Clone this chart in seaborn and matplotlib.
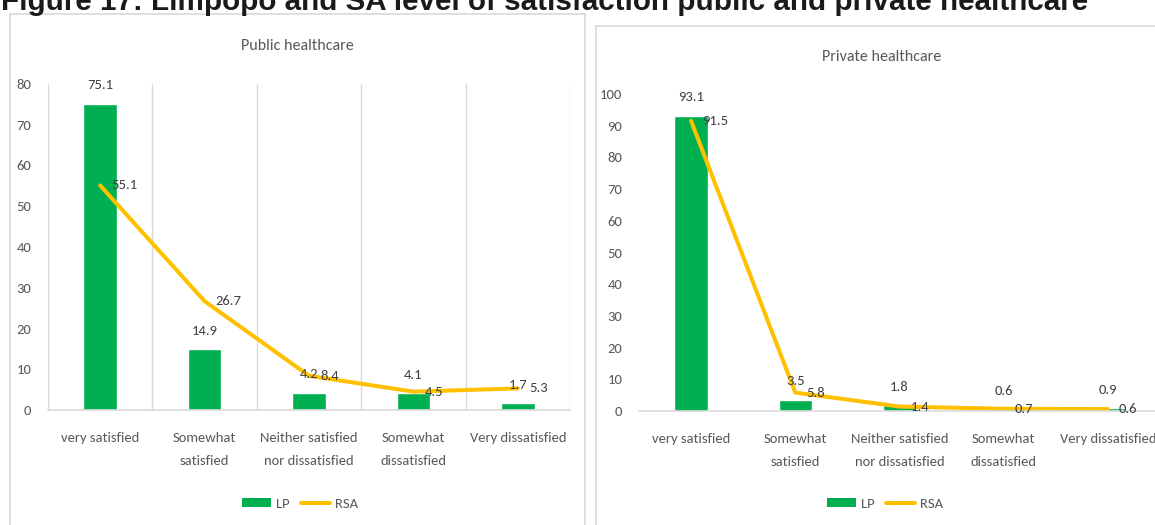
import numpy as np
import pandas as pd
import seaborn as sns
import matplotlib.pyplot as plt
from matplotlib import font_manager
from matplotlib.patches import Patch, Rectangle
from matplotlib.lines import Line2D

# ---- data ----
categories = ['very satisfied', 'Somewhat\nsatisfied', 'Neither satisfied\nnor dissatisfied',
              'Somewhat\ndissatisfied', 'Very dissatisfied']
public_lp = [75.1, 14.9, 4.2, 4.1, 1.7]
public_rsa = [55.1, 26.7, 8.4, 4.5, 5.3]
private_lp = [93.1, 3.5, 1.8, 0.6, 0.9]
private_rsa = [91.5, 5.8, 1.4, 0.7, 0.6]

GREEN = '#00B050'
YELLOW = '#FFC000'
GREY_TXT = '#595959'
GRID = '#d9d9d9'

sns.set_theme(style='white')
installed = {f.name for f in font_manager.fontManager.ttflist}
narrow = 'DejaVu Sans'
for cand in ['Carlito', 'Liberation Sans Narrow', 'Roboto Condensed', 'Open Sans Condensed', 'Liberation Sans']:
    if cand in installed:
        narrow = cand
        break
plt.rcParams['font.family'] = [narrow, 'DejaVu Sans']

W, H = 1155, 525
fig = plt.figure(figsize=(W / 100, H / 100), dpi=100)


def fbox(x0, y0, x1, y1):
    # pixel box (top-left origin) -> figure fraction rect
    return [x0 / W, 1 - y1 / H, (x1 - x0) / W, (y1 - y0) / H]


# panel frames
fig.patches.append(Rectangle((10 / W, 1 - 540 / H), (585 - 10) / W, (540 - 14) / H,
                             transform=fig.transFigure, fill=False, edgecolor=GRID, lw=1.2))
fig.patches.append(Rectangle((596 / W, 1 - 540 / H), (1170 - 596) / W, (540 - 26) / H,
                             transform=fig.transFigure, fill=False, edgecolor=GRID, lw=1.2))

# figure caption, cut off at the top as in the source
fig.text(1 / W, 1 - 10 / H, 'Figure 17: Limpopo and SA level of satisfaction public and private healthcare',
         fontsize=21.3, fontweight='bold', family=['Liberation Sans', 'DejaVu Sans'],
         color='#1a1a1a', ha='left', va='baseline')

panels = [
    ('Public healthcare', public_lp, public_rsa, fbox(48, 84, 570, 410), 80, True, 297, 46),
    ('Private healthcare', private_lp, private_rsa, fbox(639, 94, 1160, 411), 100, False, 882, 57),
]

for title, lp, rsa, rect, ymax, vgrid, tx, ty in panels:
    ax = fig.add_axes(rect)
    df = pd.DataFrame({'cat': categories, 'LP': lp, 'RSA': rsa})
    sns.barplot(data=df, x='cat', y='LP', color=GREEN, width=0.32, saturation=1, ax=ax)
    sns.lineplot(data=df, x='cat', y='RSA', color=YELLOW, lw=2.9, ax=ax, sort=False)

    ax.bar_label(ax.containers[0], labels=[f'{v:.1f}' for v in lp], padding=9,
                 fontsize=10.5, color='#404040')
    for i, v in enumerate(rsa):
        ax.annotate(f'{v:.1f}', (i, v), xytext=(8, 0), textcoords='offset points',
                    ha='left', va='center', fontsize=10.5, color='#404040')

    ax.set_ylim(0, ymax)
    ax.set_xlim(-0.5, len(categories) - 0.5)
    ax.set_yticks(np.arange(0, ymax + 1, 10))
    ax.set_xlabel('')
    ax.set_ylabel('')
    for s in ['top', 'right', 'left']:
        ax.spines[s].set_visible(False)
    ax.spines['bottom'].set_color(GRID)
    ax.spines['bottom'].set_linewidth(1.2)
    ax.tick_params(axis='both', length=0, labelsize=10.5, labelcolor=GREY_TXT)
    ax.tick_params(axis='x', pad=16)
    ax.tick_params(axis='y', pad=12)
    for lab in ax.get_xticklabels():
        lab.set_linespacing(2.1)
        lab.set_va('top')
    if vgrid:
        for b in np.arange(-0.5, len(categories), 1.0):
            ax.axvline(b, color=GRID, lw=1, zorder=0)

    fig.text(tx / W, 1 - ty / H, title, fontsize=11.5, color=GREY_TXT, ha='center', va='center')

    handles = [Patch(facecolor=GREEN, edgecolor='none'), Line2D([], [], color=YELLOW, lw=2.9)]
    ax.legend(handles, ['LP', 'RSA'], loc='center', bbox_to_anchor=((tx + 3) / W, 1 - 504 / H),
              bbox_transform=fig.transFigure, ncol=2, frameon=False, fontsize=10.5,
              handlelength=2.0, handleheight=0.6, handletextpad=0.3, columnspacing=0.8,
              labelcolor=GREY_TXT)

fig.savefig('out.png', dpi=100)
